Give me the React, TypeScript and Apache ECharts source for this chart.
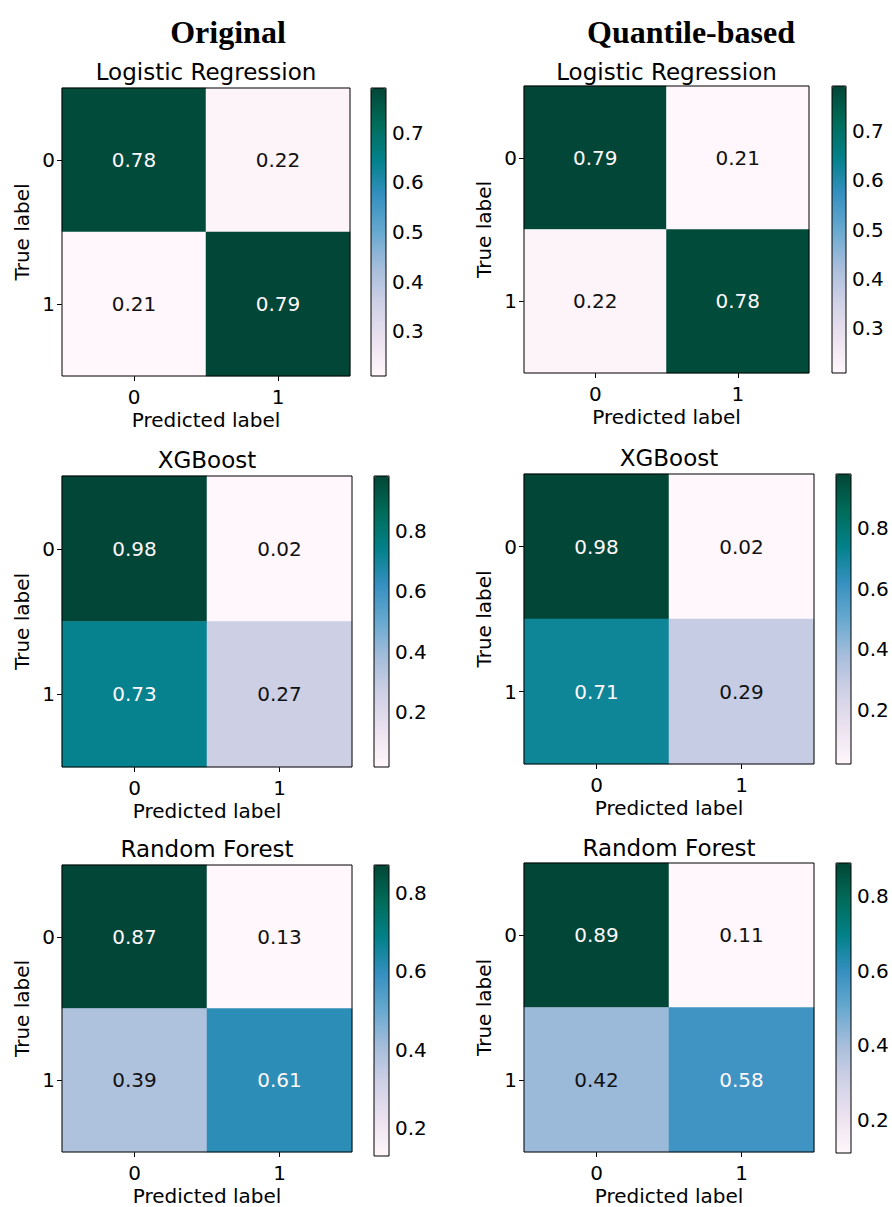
import React, { useEffect, useRef } from "react";
import * as echarts from "echarts";

// ---------- data ----------
const columnHeaders = ["Original", "Quantile-based"];
const modelNames = ["Logistic Regression", "Logistic Regression", "XGBoost", "XGBoost", "Random Forest", "Random Forest"];
const classLabels = ["0", "1"];

const origLR = [[0.78, 0.22], [0.21, 0.79]];
const quantLR = [[0.79, 0.21], [0.22, 0.78]];
const origXGB = [[0.98, 0.02], [0.73, 0.27]];
const quantXGB = [[0.98, 0.02], [0.71, 0.29]];
const origRF = [[0.87, 0.13], [0.39, 0.61]];
const quantRF = [[0.89, 0.11], [0.42, 0.58]];
const matrices = [origLR, quantLR, origXGB, quantXGB, origRF, quantRF];

const ticksLR = [0.3, 0.4, 0.5, 0.6, 0.7];
const ticksXGB = [0.2, 0.4, 0.6, 0.8];
const ticksRF = [0.2, 0.4, 0.6, 0.8];
const colorbarTicks = [ticksLR, ticksLR, ticksXGB, ticksXGB, ticksRF, ticksRF];

// ---------- layout / style ----------
const PUBUGN = ["#fff7fb", "#ece2f0", "#d0d1e6", "#a6bddb", "#67a9cf", "#3690c0", "#02818a", "#016c59", "#014636"];
const heatBoxes = [
  [62, 88, 288, 288],
  [524, 86, 285, 287],
  [62, 476, 290, 291],
  [524, 474, 290, 290],
  [62, 865, 290, 291],
  [524, 863, 290, 290],
];
const cbBoxes = [
  [371, 88, 15, 288],
  [832, 86, 14, 287],
  [374, 476, 15, 291],
  [836, 474, 15, 290],
  [374, 865, 15, 291],
  [836, 863, 15, 290],
];
const titleYs = [72, 72, 460, 458, 849, 848];
const headerPos = [[228, 32], [691, 32]];
const FONT = "DejaVu Sans";

export default function App() {
  const ref = useRef<HTMLDivElement>(null);
  useEffect(() => {
    if (!ref.current) return;
    const chart = echarts.init(ref.current, null, { renderer: "svg" });
    const grid: any[] = [];
    const xAxis: any[] = [];
    const yAxis: any[] = [];
    const series: any[] = [];
    const visualMap: any[] = [];
    const graphic: any[] = [];

    headerPos.forEach((p, i) => {
      graphic.push({
        type: "text",
        x: p[0],
        y: p[1],
        style: {
          text: columnHeaders[i],
          fontFamily: "Liberation Serif",
          fontWeight: "bold",
          fontSize: 32,
          fill: "#000",
          align: "center",
          verticalAlign: "middle",
        },
      });
    });

    matrices.forEach((m, i) => {
      const flat = m.flat();
      const mn = Math.min(...flat);
      const mx = Math.max(...flat);
      const thresh = (mn + mx) / 2;
      const [hl, ht, hw, hh] = heatBoxes[i];
      const [cl, ct, cw, ch] = cbBoxes[i];

      graphic.push({
        type: "text",
        x: hl + hw / 2,
        y: titleYs[i],
        style: {
          text: modelNames[i],
          fontFamily: FONT,
          fontSize: 23,
          fill: "#000",
          align: "center",
          verticalAlign: "middle",
        },
      });

      grid.push({
        left: hl, top: ht, width: hw, height: hh,
        show: true, backgroundColor: "transparent", borderColor: "#000", borderWidth: 1, z: 10,
      });
      grid.push({
        left: cl, top: ct, width: cw, height: ch,
        show: true, backgroundColor: "transparent", borderColor: "#000", borderWidth: 1, z: 10,
      });
      const gH = 2 * i;
      const gC = 2 * i + 1;
      xAxis.push({
        type: "category",
        gridIndex: gH,
        data: classLabels,
        position: "bottom",
        axisLine: { show: false },
        axisTick: { show: true, alignWithLabel: true, length: 5, lineStyle: { color: "#000" } },
        axisLabel: { color: "#000", fontSize: 20, fontFamily: FONT, margin: 11 },
        splitLine: { show: false },
        name: "Predicted label",
        nameLocation: "middle",
        nameGap: 34,
        nameTextStyle: { color: "#000", fontSize: 20, fontFamily: FONT },
      });
      yAxis.push({
        type: "category",
        gridIndex: gH,
        data: classLabels,
        inverse: true,
        axisLine: { show: false },
        axisTick: { show: true, alignWithLabel: true, length: 5, lineStyle: { color: "#000" } },
        axisLabel: { color: "#000", fontSize: 20, fontFamily: FONT, margin: 7 },
        splitLine: { show: false },
        name: "True label",
        nameLocation: "middle",
        nameGap: 30,
        nameRotate: 90,
        nameTextStyle: { color: "#000", fontSize: 20, fontFamily: FONT },
      });
      xAxis.push({ type: "value", gridIndex: gC, min: 0, max: 1, show: false });
      yAxis.push({
        type: "value",
        gridIndex: gC,
        min: mn,
        max: mx,
        position: "right",
        axisLine: { show: false },
        splitLine: { show: false },
        axisTick: { show: true, length: 4, lineStyle: { color: "#000" }, customValues: colorbarTicks[i] },
        axisLabel: {
          color: "#000", fontSize: 20, fontFamily: FONT, margin: 6,
          customValues: colorbarTicks[i],
          formatter: (v: number) => v.toFixed(1),
        },
      });

      const data: any[] = [];
      m.forEach((row, r) => {
        row.forEach((v, c) => {
          data.push({
            value: [c, r, v],
            label: { color: v > thresh ? "#fff7fb" : "#111111" },
          });
        });
      });
      series.push({
        type: "heatmap",
        xAxisIndex: gH,
        yAxisIndex: gH,
        data,
        label: {
          show: true,
          fontSize: 20,
          fontFamily: FONT,
          formatter: (p: any) => p.value[2].toFixed(2),
        },
        emphasis: { disabled: true },
      });
      visualMap.push({
        type: "continuous",
        seriesIndex: i,
        min: mn,
        max: mx,
        left: cl,
        top: ct,
        itemWidth: cw,
        itemHeight: ch,
        padding: 0,
        calculable: false,
        hoverLink: false,
        inRange: { color: PUBUGN },
        z: 4,
      });
    });

    chart.setOption({
      animation: false,
      backgroundColor: "#fff",
      grid,
      xAxis,
      yAxis,
      series,
      visualMap,
      graphic,
    });
    return () => chart.dispose();
  }, []);
  return (
    <div
      ref={ref}
      style={{ position: "absolute", left: 0, top: 0, width: 892, height: 1207 }}
    />
  );
}
